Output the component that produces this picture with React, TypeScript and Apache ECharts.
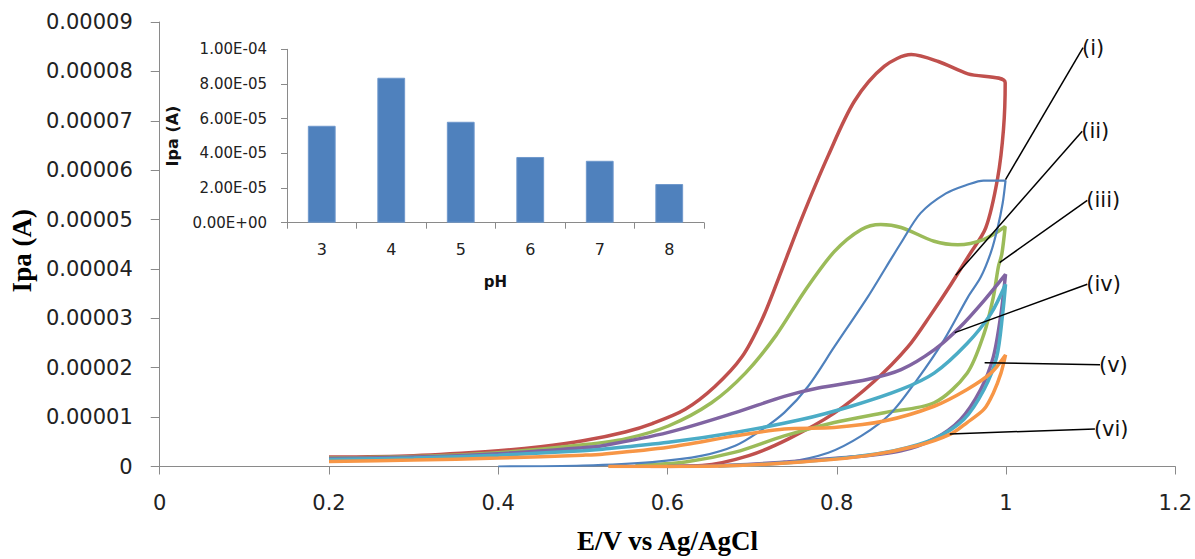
import React, { useEffect, useRef } from "react";
import * as echarts from "echarts";

// Current values below are in units of 1e-5 A (x = potential in V vs Ag/AgCl)
const UNIT = 1e-5;

const curveRed: number[][] = [
  [0.2, 0.19], [0.3, 0.22], [0.4, 0.32], [0.45, 0.4], [0.5, 0.52], [0.55, 0.7], [0.582, 0.87],
  [0.621, 1.16], [0.656, 1.62], [0.688, 2.22], [0.711, 2.95], [0.731, 3.8], [0.758, 5.0],
  [0.79, 6.3], [0.821, 7.4], [0.856, 8.1], [0.888, 8.34], [0.92, 8.2], [0.955, 7.95], [0.999, 7.77],
  [0.997, 6.83], [0.99, 5.83], [0.976, 4.83], [0.956, 4.27], [0.935, 3.69], [0.911, 3.07],
  [0.884, 2.42], [0.844, 1.72], [0.797, 1.08], [0.743, 0.56], [0.696, 0.22], [0.641, 0.02], [0.58, 0.0],
];

const curveGreen: number[][] = [
  [0.2, 0.17], [0.3, 0.2], [0.4, 0.28], [0.5, 0.44], [0.55, 0.56], [0.601, 0.82], [0.652, 1.29],
  [0.692, 1.89], [0.728, 2.65], [0.762, 3.55], [0.797, 4.35], [0.829, 4.8], [0.852, 4.9],
  [0.876, 4.84], [0.915, 4.56], [0.943, 4.49], [0.974, 4.6], [0.999, 4.86],
  [0.995, 4.3], [0.991, 4.05], [0.985, 3.43], [0.974, 2.69], [0.954, 1.89],
  [0.915, 1.29], [0.856, 1.09], [0.797, 0.89], [0.738, 0.62], [0.68, 0.29], [0.621, 0.09], [0.562, 0.02],
];

const curveBlue: number[][] = [
  [0.4, 0.0], [0.5, 0.02], [0.582, 0.09], [0.641, 0.22], [0.68, 0.42], [0.707, 0.69], [0.738, 1.09],
  [0.766, 1.62], [0.797, 2.42], [0.8365, 3.43], [0.858, 4.03], [0.876, 4.53], [0.899, 5.13],
  [0.929, 5.53], [0.955, 5.71], [0.9735, 5.79], [0.9994, 5.79],
  [0.996, 5.33], [0.99, 4.83], [0.982, 4.33], [0.97, 3.83], [0.955, 3.43], [0.927, 2.57],
  [0.895, 1.76], [0.864, 1.08], [0.829, 0.62], [0.79, 0.28], [0.738, 0.08], [0.68, 0.02], [0.6, 0.0],
];

const curvePurple: number[][] = [
  [0.2, 0.16], [0.3, 0.19], [0.4, 0.26], [0.5, 0.38], [0.523, 0.42], [0.601, 0.69], [0.68, 1.09],
  [0.738, 1.42], [0.778, 1.59], [0.836, 1.76], [0.876, 1.96], [0.915, 2.36], [0.946, 2.83],
  [0.974, 3.36], [0.9994, 3.89],
  [0.994, 3.09], [0.985, 2.22], [0.97, 1.56], [0.946, 0.95], [0.915, 0.56], [0.876, 0.32],
  [0.817, 0.19], [0.738, 0.09], [0.68, 0.03], [0.6, 0.0],
];

const curveTeal: number[][] = [
  [0.2, 0.14], [0.3, 0.17], [0.4, 0.23], [0.5, 0.32], [0.523, 0.35], [0.601, 0.49], [0.68, 0.69],
  [0.758, 0.95], [0.817, 1.22], [0.876, 1.56], [0.915, 1.89], [0.954, 2.49], [0.982, 3.09], [0.9994, 3.69],
  [0.996, 3.09], [0.989, 2.22], [0.974, 1.56], [0.95, 0.95], [0.915, 0.56], [0.868, 0.32],
  [0.817, 0.19], [0.738, 0.07], [0.66, 0.01],
];

const curveOrange: number[][] = [
  [0.2, 0.1], [0.3, 0.13], [0.4, 0.17], [0.5, 0.23], [0.523, 0.25], [0.601, 0.39], [0.68, 0.62],
  [0.738, 0.76], [0.797, 0.79], [0.856, 0.92], [0.915, 1.22], [0.954, 1.56], [0.982, 1.89], [0.9994, 2.26],
  [0.994, 1.89], [0.985, 1.49], [0.974, 1.16], [0.954, 0.89], [0.935, 0.66], [0.895, 0.42],
  [0.836, 0.22], [0.758, 0.09], [0.68, 0.02], [0.6, 0.0], [0.53, 0.0],
];

// Leader lines: [from point on curve, to label point], label text
const leaderLabels = ["(i)", "(ii)", "(iii)", "(iv)", "(v)", "(vi)"];
const leaderFrom: number[][] = [
  [0.9994, 5.81], [0.9406, 3.87], [0.9924, 4.13], [0.9394, 2.71], [0.9747, 2.1], [0.9335, 0.66],
];
const leaderTo: number[][] = [
  [1.091, 8.48], [1.09, 6.79], [1.096, 5.39], [1.096, 3.69], [1.111, 2.06], [1.105, 0.76],
];

// Inset: Ipa vs pH
const insetPH = ["3", "4", "5", "6", "7", "8"];
const insetIpa = [5.59e-5, 8.36e-5, 5.82e-5, 3.79e-5, 3.57e-5, 2.23e-5];

const mainXTicks = { min: 0, max: 1.2, interval: 0.2 };
const mainYTicks = { min: 0, max: 0.00009, interval: 0.00001 };

const NUM_FONT = "DejaVu Sans";
const SERIF = "Liberation Serif";
const AXIS_GRAY = "#8a8a8a";

function fmtE(v: number): string {
  if (v === 0) return "0.00E+00";
  const s = v.toExponential(2);
  const [m, e] = s.split("e");
  const n = parseInt(e, 10);
  const sign = n < 0 ? "-" : "+";
  const abs = Math.abs(n);
  return `${m}E${sign}${abs < 10 ? "0" + abs : abs}`;
}

const toA = (pts: number[][]) => pts.map(([x, y]) => [x, y * UNIT]);

export default function App() {
  const ref = useRef<HTMLDivElement>(null);
  useEffect(() => {
    if (!ref.current) return;
    const chart = echarts.init(ref.current, undefined, { renderer: "svg" });

    const curves = [
      { name: "pH red", data: curveRed, color: "#C0504D", width: 3.5 },
      { name: "pH green", data: curveGreen, color: "#9BBB59", width: 3.5 },
      { name: "pH blue", data: curveBlue, color: "#4F81BD", width: 2.2 },
      { name: "pH purple", data: curvePurple, color: "#8064A2", width: 3.5 },
      { name: "pH teal", data: curveTeal, color: "#4BACC6", width: 3.5 },
      { name: "pH orange", data: curveOrange, color: "#F79646", width: 3.5 },
    ];

    const curveSeries = curves.map((c) => ({
      type: "line",
      name: c.name,
      xAxisIndex: 0,
      yAxisIndex: 0,
      data: toA(c.data),
      smooth: 0.3,
      showSymbol: false,
      symbol: "none",
      lineStyle: { color: c.color, width: c.width },
      itemStyle: { color: c.color },
      silent: true,
    }));

    const leaderSeries = leaderLabels.map((lab, i) => ({
      type: "line",
      name: "leader " + lab,
      xAxisIndex: 0,
      yAxisIndex: 0,
      data: [toA([leaderFrom[i]])[0], toA([leaderTo[i]])[0]],
      showSymbol: false,
      symbol: "none",
      lineStyle: { color: "#000", width: 1.5 },
      silent: true,
      z: 5,
      endLabel: {
        show: true,
        formatter: lab,
        distance: -1,
        fontFamily: NUM_FONT,
        fontSize: 21,
        color: "#111",
      },
    }));

    chart.setOption({
      animation: false,
      backgroundColor: "#fff",
      grid: [
        { left: 156, right: 19.5, top: 22, bottom: 88, containLabel: false },
        { left: 287, top: 49.3, width: 417, height: 173.4, containLabel: false },
      ],
      xAxis: [
        {
          type: "value",
          gridIndex: 0,
          ...mainXTicks,
          name: "E/V vs Ag/AgCl",
          nameLocation: "middle",
          nameGap: 74,
          nameTextStyle: {
            fontFamily: SERIF,
            fontWeight: "bold",
            fontSize: 27,
            color: "#000",
            verticalAlign: "middle",
          },
          axisLine: { show: true, onZero: false, lineStyle: { color: AXIS_GRAY, width: 1 } },
          axisTick: { show: true, inside: false, length: 8, lineStyle: { color: AXIS_GRAY } },
          axisLabel: {
            formatter: (v: number) => String(+v.toFixed(1)),
            fontFamily: NUM_FONT,
            fontSize: 21,
            color: "#222",
            margin: 36,
            verticalAlign: "middle",
          },
          splitLine: { show: false },
        },
        {
          type: "category",
          gridIndex: 1,
          data: insetPH,
          name: "pH",
          nameLocation: "middle",
          nameGap: 59,
          nameTextStyle: {
            fontFamily: NUM_FONT,
            fontWeight: "bold",
            fontSize: 15,
            color: "#111",
            verticalAlign: "middle",
          },
          axisLine: { show: true, lineStyle: { color: AXIS_GRAY, width: 1 } },
          axisTick: { show: true, inside: false, length: 6, alignWithLabel: false, lineStyle: { color: AXIS_GRAY } },
          axisLabel: {
            fontFamily: NUM_FONT,
            fontSize: 16,
            color: "#222",
            margin: 27,
            verticalAlign: "middle",
          },
          splitLine: { show: false },
        },
      ],
      yAxis: [
        {
          type: "value",
          gridIndex: 0,
          ...mainYTicks,
          name: "Ipa (A)",
          nameLocation: "middle",
          nameGap: 135,
          nameRotate: 90,
          nameTextStyle: {
            fontFamily: SERIF,
            fontWeight: "bold",
            fontSize: 27,
            color: "#000",
            verticalAlign: "middle",
            padding: [0, 13, 0, 0],
          },
          axisLine: { show: true, onZero: false, lineStyle: { color: AXIS_GRAY, width: 1 } },
          axisTick: { show: true, inside: false, length: 9, lineStyle: { color: AXIS_GRAY } },
          axisLabel: {
            formatter: (v: number) => (v === 0 ? "0" : v.toFixed(5)),
            fontFamily: NUM_FONT,
            fontSize: 21,
            color: "#222",
            margin: 27,
          },
          splitLine: { show: false },
        },
        {
          type: "value",
          gridIndex: 1,
          min: 0,
          max: 1e-4,
          interval: 2e-5,
          name: "Ipa (A)",
          nameLocation: "middle",
          nameGap: 115,
          nameRotate: 90,
          nameTextStyle: {
            fontFamily: NUM_FONT,
            fontWeight: "bold",
            fontSize: 16,
            color: "#111",
            verticalAlign: "middle",
          },
          axisLine: { show: true, lineStyle: { color: AXIS_GRAY, width: 1 } },
          axisTick: { show: true, inside: false, length: 6, lineStyle: { color: AXIS_GRAY } },
          axisLabel: {
            formatter: fmtE,
            fontFamily: NUM_FONT,
            fontSize: 15,
            color: "#222",
            margin: 20,
          },
          splitLine: { show: false },
        },
      ],
      series: [
        ...curveSeries,
        ...leaderSeries,
        {
          type: "bar",
          name: "Ipa vs pH",
          xAxisIndex: 1,
          yAxisIndex: 1,
          data: insetIpa,
          barWidth: "40%",
          itemStyle: { color: "#4F81BD", borderColor: "#6f98cc", borderWidth: 1 },
          silent: true,
        },
      ],
    });

    return () => chart.dispose();
  }, []);

  return (
    <div
      ref={ref}
      style={{ position: "fixed", left: 0, top: 0, width: 1195, height: 559, background: "#fff" }}
    />
  );
}
